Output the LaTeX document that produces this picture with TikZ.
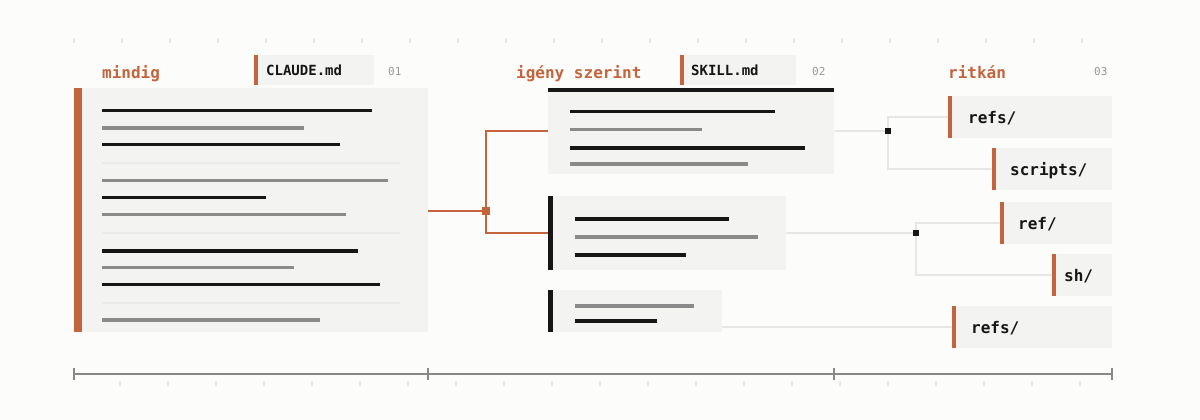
\documentclass[tikz,border=0pt]{standalone}
\usepackage{fontspec}
\newfontfamily\mono{DejaVu Sans Mono}
\definecolor{bg}{HTML}{FCFCFA}
\definecolor{panel}{HTML}{F3F3F2}
\definecolor{accent}{HTML}{C4643C}
\definecolor{ink}{HTML}{161616}
\definecolor{mid}{HTML}{8A8A8A}
\definecolor{sep}{HTML}{EAEAEA}
\definecolor{wire}{HTML}{E6E6E4}
\definecolor{tickc}{HTML}{E8E8E8}
\definecolor{num}{HTML}{999999}
\definecolor{axisc}{HTML}{888888}
\begin{document}
\begin{tikzpicture}[x=1pt,y=-1pt,
 panelbox/.style={fill=panel, draw=none, inner sep=0pt, anchor=north west},
 accentbar/.style={fill=accent},
 inkbar/.style={fill=ink},
 blk/.style={draw=ink, line width=3.5pt},
 gry/.style={draw=mid, line width=3.5pt},
 sepline/.style={draw=sep, line width=2pt},
 owire/.style={draw=accent, line width=2pt},
 gwire/.style={draw=wire, line width=2pt},
 osq/.style={fill=accent, minimum size=8pt, inner sep=0pt},
 ksq/.style={fill=ink, minimum size=6pt, inner sep=0pt},
 heading/.style={text=accent, font=\mono\bfseries\fontsize{16}{19}\selectfont, anchor=base west, inner sep=0pt},
 tabtext/.style={font=\mono\bfseries\fontsize{14}{17}\selectfont, text=ink, anchor=base west, inner sep=0pt},
 numtext/.style={font=\mono\fontsize{11}{13}\selectfont, text=num, anchor=base west, inner sep=0pt},
 dirtext/.style={font=\mono\bfseries\fontsize{16}{19}\selectfont, text=ink, anchor=base west, inner sep=0pt},
 toptick/.style={draw=tickc, line width=2pt},
 axisline/.style={draw=axisc, line width=2pt},
 ]
\fill[bg] (0,0) rectangle (1200,420);
\useasboundingbox (0,0) rectangle (1200,420);

% top ticks
\foreach \x in {74,122,...,1082} \draw[toptick] (\x,38) -- (\x,43);

% headings
\node[heading] (h1) at (102,79) {mindig};
\node[heading] (h2) at (516,79) {igény szerint};
\node[heading] (h3) at (948,79) {ritkán};
\node[numtext] (n1) at (388,76) {01};
\node[numtext] (n2) at (812,76) {02};
\node[numtext] (n3) at (1094,76) {03};

% tabs
\node[panelbox, minimum width=120pt, minimum height=30pt] (t1) at (254,55) {};
\fill[accentbar] (254,55) rectangle (258,85);
\node[tabtext] (t1l) at (266,75.5) {CLAUDE.md};
\node[panelbox, minimum width=116pt, minimum height=30pt] (t2) at (680,55) {};
\fill[accentbar] (680,55) rectangle (684,85);
\node[tabtext] (t2l) at (691,75.5) {SKILL.md};

% box 1
\node[panelbox, minimum width=354pt, minimum height=244pt] (b1) at (74,88) {};
\fill[accentbar] (74,88) rectangle (82,332);
\draw[blk] (102,110.5) -- (372,110.5);
\draw[gry] (102,128) -- (304,128);
\draw[blk] (102,144.7) -- (340,144.7);
\draw[sepline] (102,162.7) -- (400,162.7);
\draw[gry] (102,180.7) -- (388,180.7);
\draw[blk] (102,197.7) -- (266,197.7);
\draw[gry] (102,214.7) -- (346,214.7);
\draw[sepline] (102,232.7) -- (400,232.7);
\draw[blk] (102,251) -- (358,251);
\draw[gry] (102,267.7) -- (294,267.7);
\draw[blk] (102,284.7) -- (380,284.7);
\draw[sepline] (102,302.7) -- (400,302.7);
\draw[gry] (102,320) -- (320,320);

% box 2
\node[panelbox, minimum width=286pt, minimum height=86pt] (b2) at (548,88) {};
\fill[inkbar] (548,88) rectangle (834,92.5);
\draw[blk] (570,111.5) -- (775,111.5);
\draw[gry] (570,129.5) -- (702,129.5);
\draw[blk] (570,148) -- (805,148);
\draw[gry] (570,164) -- (748,164);

% box 3
\node[panelbox, minimum width=238pt, minimum height=74pt] (b3) at (548,196) {};
\fill[inkbar] (548,196) rectangle (553,270);
\draw[blk] (575,219) -- (729,219);
\draw[gry] (575,237) -- (758,237);
\draw[blk] (575,255) -- (686,255);

% box 4
\node[panelbox, minimum width=174pt, minimum height=42pt] (b4) at (548,290) {};
\fill[inkbar] (548,290) rectangle (553,332);
\draw[gry] (575,306) -- (694,306);
\draw[blk] (575,321) -- (657,321);

% right items
\node[panelbox, minimum width=164pt, minimum height=42pt] (r1) at (948,96) {};
\fill[accentbar] (948,96) rectangle (952,138);
\node[dirtext] (r1l) at (968,123.5) {refs/};
\node[panelbox, minimum width=120pt, minimum height=42pt] (r2) at (992,148) {};
\fill[accentbar] (992,148) rectangle (996,190);
\node[dirtext] (r2l) at (1010,175.5) {scripts/};
\node[panelbox, minimum width=112pt, minimum height=42pt] (r3) at (1000,202) {};
\fill[accentbar] (1000,202) rectangle (1004,244);
\node[dirtext] (r3l) at (1018,229.5) {ref/};
\node[panelbox, minimum width=60pt, minimum height=42pt] (r4) at (1052,254) {};
\fill[accentbar] (1052,254) rectangle (1056,296);
\node[dirtext] (r4l) at (1064,281.5) {sh/};
\node[panelbox, minimum width=160pt, minimum height=42pt] (r5) at (952,306) {};
\fill[accentbar] (952,306) rectangle (956,348);
\node[dirtext] (r5l) at (971,333.5) {refs/};

% orange connectors
\coordinate (j1) at (486,211);
\draw[owire] (j1) -- (j1 -| b1.east);
\draw[owire] (b2.west) -| (j1) |- (b3.west);
\node[osq] (j1s) at (j1) {};

% gray connectors
\coordinate (k1) at (888,131);
\draw[gwire] (b2.east) -- (k1);
\draw[gwire] (r1.west) -| (k1) |- (r2.west);
\node[ksq] (k1s) at (k1) {};
\coordinate (k2) at (916,233);
\draw[gwire] (b3.east) -- (k2);
\draw[gwire] (r3.west) -| (k2) |- (r4.west);
\node[ksq] (k2s) at (k2) {};
\draw[gwire] (r5.west) -- (r5.west -| b4.east);

% bottom axis
\draw[axisline] (74,374) -- (1112,374);
\foreach \x in {74,428,834,1112} \draw[axisline] (\x,368) -- (\x,380);
\foreach \x in {120,168,...,1080} \draw[toptick] (\x,381) -- (\x,386);
\end{tikzpicture}
\end{document}
